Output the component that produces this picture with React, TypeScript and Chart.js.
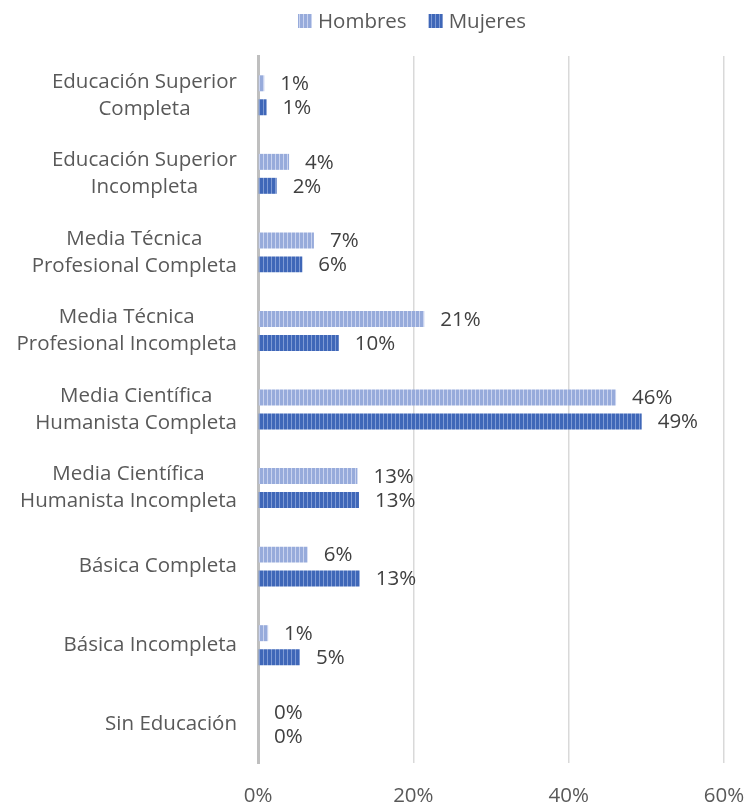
import React, { useEffect, useRef } from "react";
import { Chart, registerables } from "chart.js";

Chart.register(...registerables);

const categories: string[][] = [
  ["Educación Superior", "Completa"],
  ["Educación Superior", "Incompleta"],
  ["Media Técnica", "Profesional Completa"],
  ["Media Técnica", "Profesional Incompleta"],
  ["Media Científica", "Humanista Completa"],
  ["Media Científica", "Humanista Incompleta"],
  ["Básica Completa"],
  ["Básica Incompleta"],
  ["Sin Educación"],
];

const hombres: number[] = [0.8, 4.0, 7.2, 21.4, 46.1, 12.8, 6.4, 1.3, 0];
const mujeres: number[] = [1.1, 2.4, 5.7, 10.4, 49.4, 13.0, 13.1, 5.4, 0];

const xTicks: number[] = [0, 20, 40, 60];

const FONT = "'Open Sans', 'DejaVu Sans', sans-serif";
const TEXT = "#595959";
const FS = 20.5;

function makePattern(dark: string, light: string): CanvasPattern | string {
  const c = document.createElement("canvas");
  c.width = 4;
  c.height = 4;
  const g = c.getContext("2d");
  if (!g) return dark;
  g.fillStyle = dark;
  g.fillRect(0, 0, 4, 4);
  g.fillStyle = light;
  g.fillRect(3, 0, 1, 4);
  const p = g.createPattern(c, "repeat");
  return p || dark;
}

export default function App() {
  const ref = useRef<HTMLCanvasElement | null>(null);

  useEffect(() => {
    document.body.style.margin = "0";
    const canvas = ref.current;
    if (!canvas) return;
    const patH = makePattern("#97abdb", "#c9d3ef");
    const patM = makePattern("#3f67b8", "#7e9ad4");

    const yLabelsPlugin = {
      id: "yLabels",
      afterDraw(chart: any) {
        const ctx = chart.ctx;
        const y = chart.scales.y;
        ctx.save();
        ctx.font = `${FS}px ${FONT}`;
        ctx.fillStyle = TEXT;
        ctx.textAlign = "center";
        ctx.textBaseline = "middle";
        const right = 237;
        const lh = 27;
        categories.forEach((lines, i) => {
          const cy = y.getPixelForValue(i);
          const maxW = Math.max(...lines.map((l) => ctx.measureText(l).width));
          const cx = right - maxW / 2;
          const start = cy - ((lines.length - 1) * lh) / 2;
          lines.forEach((l, j) => ctx.fillText(l, cx, start + j * lh));
        });
        ctx.restore();
      },
    };

    const dataLabelsPlugin = {
      id: "dataLabels",
      afterDatasetsDraw(chart: any) {
        const ctx = chart.ctx;
        ctx.save();
        ctx.font = `${FS}px ${FONT}`;
        ctx.fillStyle = "#404040";
        ctx.textAlign = "left";
        ctx.textBaseline = "middle";
        chart.data.datasets.forEach((ds: any, di: number) => {
          const meta = chart.getDatasetMeta(di);
          meta.data.forEach((el: any, i: number) => {
            const v = ds.data[i] as number;
            ctx.fillText(Math.round(v) + "%", el.x + 16, el.y + 1);
          });
        });
        ctx.restore();
      },
    };

    const legendPlugin = {
      id: "customLegend",
      afterDraw(chart: any) {
        const ctx = chart.ctx;
        ctx.save();
        ctx.font = `${FS}px ${FONT}`;
        ctx.textAlign = "left";
        ctx.textBaseline = "middle";
        const items = chart.data.datasets.map((d: any) => ({ label: d.label, fill: d.backgroundColor }));
        const widths = items.map((it: any) => 14 + 6 + ctx.measureText(it.label).width);
        const gap = 22;
        const total = widths.reduce((a: number, b: number) => a + b, 0) + gap * (items.length - 1);
        let x = 412 - total / 2;
        const cy = 21;
        items.forEach((it: any, i: number) => {
          ctx.fillStyle = it.fill;
          ctx.fillRect(x, cy - 7, 14, 14);
          ctx.fillStyle = TEXT;
          ctx.fillText(it.label, x + 20, cy + 1);
          x += widths[i] + gap;
        });
        ctx.restore();
      },
    };

    const chart = new Chart(canvas, {
      type: "bar",
      data: {
        labels: categories.map((c) => c.join(" ")),
        datasets: [
          {
            label: "Hombres",
            data: hombres,
            backgroundColor: patH as any,
            categoryPercentage: 0.61,
            barPercentage: 0.667,
          },
          {
            label: "Mujeres",
            data: mujeres,
            backgroundColor: patM as any,
            categoryPercentage: 0.61,
            barPercentage: 0.667,
          },
        ],
      },
      options: {
        indexAxis: "y",
        responsive: false,
        animation: false,
        layout: { padding: { top: 56, right: 0, left: 0, bottom: 0 } },
        plugins: {
          legend: { display: false },
          tooltip: { enabled: false },
        },
        scales: {
          x: {
            min: 0,
            max: 60,
            afterBuildTicks: (scale: any) => {
              scale.ticks = xTicks.map((v) => ({ value: v }));
            },
            afterFit: (scale: any) => {
              scale.height = 40;
              scale.paddingRight = 22;
              scale.paddingLeft = 0;
            },
            grid: { color: "#d9d9d9", lineWidth: 1.5, drawTicks: false },
            border: { display: false },
            ticks: {
              padding: 21,
              color: TEXT,
              font: { family: FONT, size: FS },
              callback: (v: any) => v + "%",
            },
          },
          y: {
            afterFit: (scale: any) => {
              scale.width = 258;
            },
            grid: { display: false, drawTicks: false },
            border: { display: true, color: "#bfbfbf", width: 3 },
            ticks: { display: false },
          },
        },
      },
      plugins: [yLabelsPlugin, dataLabelsPlugin, legendPlugin],
    });
    return () => chart.destroy();
  }, []);

  return (
    <div style={{ width: 746, height: 803, overflow: "hidden", background: "#fff" }}>
      <canvas ref={ref} width={746} height={803} style={{ display: "block" }} />
    </div>
  );
}
